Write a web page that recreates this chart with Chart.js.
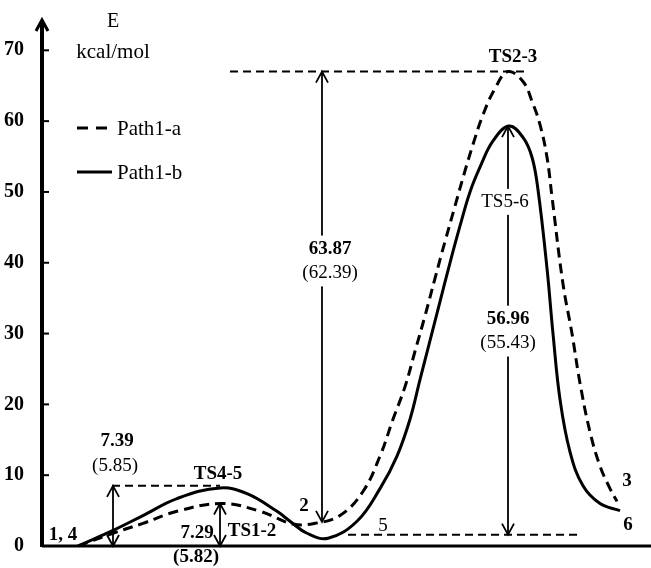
<!DOCTYPE html>
<html>
<head>
<meta charset="utf-8">
<script src="https://cdn.jsdelivr.net/npm/chart.js@4/dist/chart.umd.min.js"></script>
<style>
body { margin: 0; background: #fff; }
#wrap { width: 651px; height: 568px; }
</style>
</head>
<body>
<div id="wrap"><canvas id="myChart"></canvas></div>
<script>
// reaction coordinate (arbitrary units) and energy (kcal/mol)
var pathA_x = [36, 71, 101, 135, 180, 218, 251, 273, 298, 321, 338, 351, 363, 373, 383, 393, 403, 413, 422, 431, 441, 453, 466, 481, 490, 498, 505, 510, 521, 530, 538, 548, 558, 568, 575];
var pathA_y = [0, 1.8, 3.2, 4.9, 6.0, 4.9, 3.1, 3.2, 4.3, 7.7, 12.7, 17.9, 22.5, 27.5, 32.5, 37.8, 43.0, 48.0, 52.5, 56.7, 60.9, 64.6, 67.0, 65.6, 62.8, 59.5, 54.9, 49.3, 37.0, 30.0, 23.0, 16.1, 11.3, 8.1, 6.3];
var pathB_x = [36, 71, 101, 135, 178, 205, 235, 248, 265, 286, 315, 338, 355, 368, 378, 388, 398, 408, 418, 428, 438, 451, 467, 481, 490, 496, 505, 511, 518, 528, 541, 558, 578];
var pathB_y = [0, 2.2, 4.3, 6.7, 8.2, 7.4, 4.9, 3.5, 1.8, 1.1, 3.5, 8.1, 12.7, 17.9, 23.5, 29.0, 34.5, 40.0, 45.2, 50.0, 53.5, 57.2, 59.3, 57.7, 54.9, 50.3, 39.2, 30.0, 20.7, 13.3, 8.5, 6.0, 5.0];
var yTicks = [0, 10, 20, 30, 40, 50, 60, 70];

// barrier arrows: position on the reaction coordinate, low and high energy
var barrierX = [71, 178, 280, 466];
var barrierLow = [0, 0, 3.4, 1.6];
var barrierHigh = [8.5, 6.0, 67.0, 59.3];

// dashed reference levels
var guideY = [8.5, 67.0, 1.6];
var guideFrom = [70, 188, 306];
var guideTo = [178, 483, 538];

var serif = '"Liberation Serif", "Times New Roman", serif';

var notes = [
    { t: '1, 4', x: 21, y: 1.5, bold: true },
    { t: '7.39', x: 75, y: 14.8, bold: true },
    { t: '(5.85)', x: 73, y: 11.3 },
    { t: 'TS4-5', x: 176, y: 10.2, bold: true },
    { t: '7.29', x: 155, y: 1.8, bold: true },
    { t: 'TS1-2', x: 210, y: 2.1, bold: true },
    { t: '(5.82)', x: 154, y: -1.5, bold: true },
    { t: '2', x: 262, y: 5.7, bold: true },
    { t: '63.87', x: 288, y: 42.0, bold: true, bg: true },
    { t: '(62.39)', x: 288, y: 38.5, bg: true },
    { t: 'TS2-3', x: 471, y: 69.1, bold: true },
    { t: 'TS5-6', x: 463, y: 48.6, bg: true },
    { t: '56.96', x: 466, y: 32.1, bold: true, bg: true },
    { t: '(55.43)', x: 466, y: 28.6, bg: true },
    { t: '5', x: 341, y: 2.8 },
    { t: '3', x: 585, y: 9.1, bold: true },
    { t: '6', x: 586, y: 2.9, bold: true }
];

function toPoints(xs, ys) {
    return xs.map(function (x, i) { return { x: x, y: ys[i] }; });
}

function arrowHead(c, x, y, dir) {
    c.beginPath();
    c.moveTo(x - 6, y + dir * 11);
    c.lineTo(x, y);
    c.lineTo(x + 6, y + dir * 11);
    c.stroke();
}

var extras = {
    id: 'extras',
    afterDatasetsDraw: function (chart) {
        var c = chart.ctx;
        var xs = chart.scales.x, ys = chart.scales.y;
        var area = chart.chartArea;
        c.save();
        c.strokeStyle = '#000';
        c.fillStyle = '#000';

        // axes
        c.lineWidth = 3;
        c.beginPath();
        c.moveTo(area.left, ys.getPixelForValue(0));
        c.lineTo(area.right, ys.getPixelForValue(0));
        c.stroke();
        c.lineWidth = 4;
        c.beginPath();
        c.moveTo(area.left, ys.getPixelForValue(0) + 1);
        c.lineTo(area.left, area.top - 1);
        c.stroke();
        c.lineWidth = 3;
        arrowHead(c, area.left, area.top - 2, 1);
        c.lineWidth = 2;
        yTicks.forEach(function (v) {
            var py = ys.getPixelForValue(v);
            c.beginPath();
            c.moveTo(area.left, py);
            c.lineTo(area.left + 7, py);
            c.stroke();
        });

        // dashed reference levels
        c.lineWidth = 2;
        c.setLineDash([8, 5]);
        guideY.forEach(function (v, i) {
            var py = ys.getPixelForValue(v);
            c.beginPath();
            c.moveTo(xs.getPixelForValue(guideFrom[i]), py);
            c.lineTo(xs.getPixelForValue(guideTo[i]), py);
            c.stroke();
        });
        c.setLineDash([]);

        // barrier arrows
        c.lineWidth = 1.8;
        barrierX.forEach(function (x, i) {
            var px = xs.getPixelForValue(x);
            var y0 = ys.getPixelForValue(barrierLow[i]);
            var y1 = ys.getPixelForValue(barrierHigh[i]);
            c.beginPath();
            c.moveTo(px, y0);
            c.lineTo(px, y1);
            c.stroke();
            arrowHead(c, px, y1, 1);
            arrowHead(c, px, y0, -1);
        });

        // texts
        c.textAlign = 'center';
        c.textBaseline = 'middle';
        notes.forEach(function (n) {
            c.font = (n.bold ? 'bold ' : '') + '19px ' + serif;
            var px = xs.getPixelForValue(n.x);
            var py = ys.getPixelForValue(n.y);
            if (n.bg) {
                var w = c.measureText(n.t).width;
                c.fillStyle = '#fff';
                c.fillRect(px - w / 2 - 2, py - 13, w + 4, 26);
                c.fillStyle = '#000';
            }
            c.fillText(n.t, px, py);
        });

        // axis title
        c.font = '20px ' + serif;
        c.fillText('E', 113, 22);
        c.font = '21px ' + serif;
        c.fillText('kcal/mol', 113, 52);

        // legend
        c.textAlign = 'left';
        c.font = '21px ' + serif;
        c.lineWidth = 3;
        c.setLineDash([11, 8]);
        c.beginPath();
        c.moveTo(77, 128);
        c.lineTo(110, 128);
        c.stroke();
        c.setLineDash([]);
        c.beginPath();
        c.moveTo(77, 172);
        c.lineTo(112, 172);
        c.stroke();
        c.fillText('Path1-a', 117, 129);
        c.fillText('Path1-b', 117, 173);
        c.restore();
    }
};

var ctx = document.getElementById('myChart').getContext('2d');

var myChart = new Chart(ctx, {
    type: 'scatter',
    data: {
        datasets: [{
            label: 'Path1-a',
            data: toPoints(pathA_x, pathA_y),
            showLine: true,
            borderColor: '#000',
            borderWidth: 3,
            borderDash: [10, 6],
            pointRadius: 0,
            tension: 0.4,
            fill: false
        }, {
            label: 'Path1-b',
            data: toPoints(pathB_x, pathB_y),
            showLine: true,
            borderColor: '#000',
            borderWidth: 3,
            pointRadius: 0,
            tension: 0.4,
            fill: false
        }]
    },
    options: {
        responsive: true,
        maintainAspectRatio: false,
        animation: false,
        layout: { padding: { top: 18, bottom: 20, left: 0, right: 0 } },
        plugins: {
            legend: { display: false },
            tooltip: { enabled: false }
        },
        scales: {
            x: {
                type: 'linear',
                min: 0,
                max: 609,
                ticks: { display: false },
                grid: { display: false },
                border: { display: false },
                afterFit: function (s) { s.height = 0; }
            },
            y: {
                min: 0,
                max: 74,
                afterBuildTicks: function (s) {
                    s.ticks = yTicks.map(function (v) { return { value: v }; });
                },
                ticks: {
                    color: '#000',
                    padding: 10,
                    font: { family: serif, size: 20, weight: 'bold' }
                },
                grid: { display: false },
                border: { display: false },
                afterFit: function (s) { s.width = 42; }
            }
        }
    },
    plugins: [extras]
});
</script>
</body>
</html>
